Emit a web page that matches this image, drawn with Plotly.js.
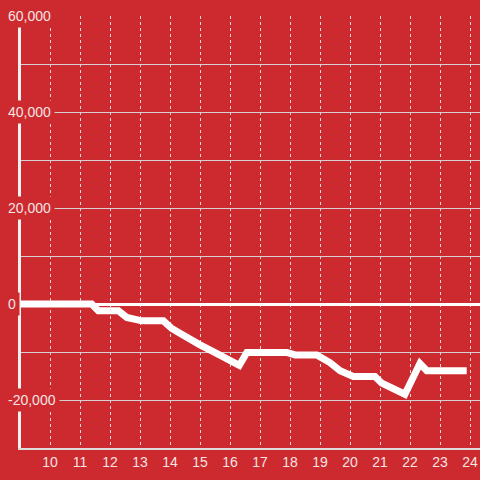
<!DOCTYPE html>
<html>
<head>
<meta charset="utf-8">
<script src="https://cdn.plot.ly/plotly-3.0.1.min.js"></script>
<style>html,body{margin:0;padding:0;background:#cc2a2f;}#chart{width:480px;height:480px;}</style>
</head>
<body>
<div id="chart"></div>
<script>
const hours = [9, 11.39, 11.61, 12.28, 12.56, 13.06, 13.78, 14.06, 14.33, 14.67, 15.0, 15.44, 15.89, 16.31, 16.56, 17.89, 18.17, 18.89, 19.33, 19.67, 20.11, 20.83, 21.06, 21.44, 21.83, 22.33, 22.56, 23.89];
const values = [0, 0, -1400, -1400, -2800, -3500, -3500, -5100, -6100, -7500, -8500, -9900, -11300, -12800, -10100, -10100, -10600, -10600, -12200, -13900, -15100, -15100, -16500, -17600, -18800, -12400, -13900, -13900];
const xTickVals = [10, 11, 12, 13, 14, 15, 16, 17, 18, 19, 20, 21, 22, 23, 24];
const yTickVals = [60000, 40000, 20000, 0, -20000];
const yTickText = ['60,000', '40,000', '20,000', '0', '-20,000'];

const bg = '#cc2a2f';
const labelColor = '#f6e4e4';

const annotations = yTickVals.map((v, i) => ({
  xref: 'paper', yref: 'y', x: 0, y: v,
  xanchor: 'left', yanchor: 'middle', xshift: -17,
  text: yTickText[i], showarrow: false,
  bgcolor: bg, borderpad: 3,
  font: {family: 'Liberation Sans, Arial, sans-serif', size: 14, color: labelColor}
}));

Plotly.newPlot('chart', [{
  x: hours, y: values, type: 'scatter', mode: 'lines',
  line: {color: '#ffffff', width: 7}, hoverinfo: 'skip'
}], {
  width: 480, height: 480,
  paper_bgcolor: bg, plot_bgcolor: bg,
  margin: {l: 21, r: 0, t: 16, b: 32},
  showlegend: false,
  font: {family: 'Liberation Sans, Arial, sans-serif', size: 14, color: labelColor},
  xaxis: {
    range: [9.033, 24.333], tickmode: 'array', tickvals: xTickVals,
    showgrid: true, gridcolor: '#e8d8d8', gridwidth: 1, griddash: 'dot',
    showline: true, linecolor: '#dcdcdc', linewidth: 2,
    zeroline: false, ticks: '', fixedrange: true
  },
  yaxis: {
    range: [-30000, 60000], dtick: 10000, tick0: 0,
    showticklabels: false,
    showgrid: true, gridcolor: '#d6d0d0', gridwidth: 1,
    zeroline: true, zerolinecolor: '#ffffff', zerolinewidth: 3,
    showline: true, linecolor: '#f2f2f2', linewidth: 3,
    ticks: '', fixedrange: true
  },
  annotations: annotations
}, {displayModeBar: false, staticPlot: true});
</script>
</body>
</html>
